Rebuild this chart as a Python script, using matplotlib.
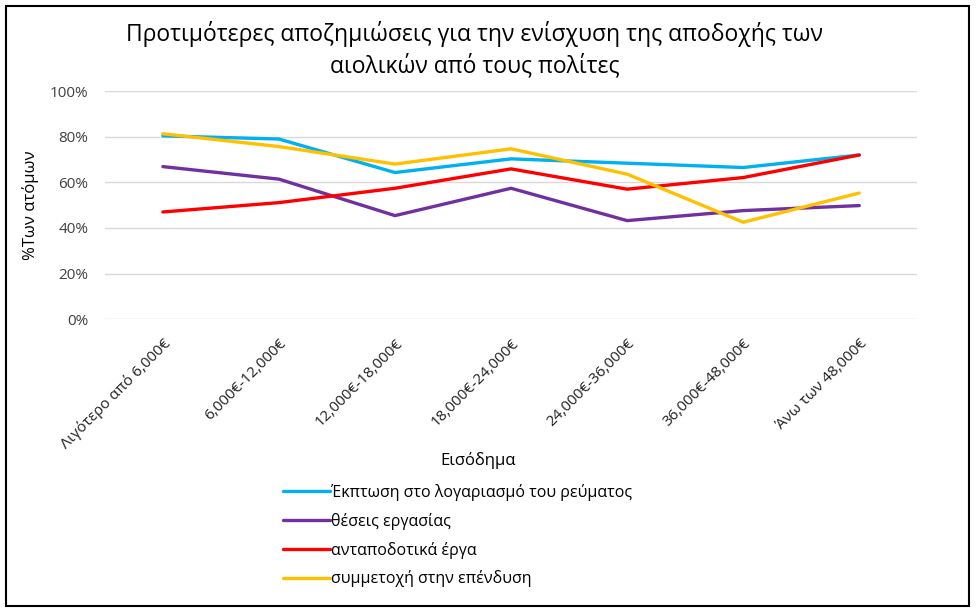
import matplotlib
matplotlib.use("Agg")
import matplotlib.pyplot as plt
from matplotlib.patches import Rectangle

plt.rcParams['font.family'] = ['Open Sans', 'DejaVu Sans']

# εισοδηματικές κατηγορίες
categories = ["Λιγότερο από 6,000€", "6,000€-12,000€", "12,000€-18,000€",
              "18,000€-24,000€", "24,000€-36,000€", "36,000€-48,000€",
              "Άνω των 48,000€"]

ekptosi = [0.804, 0.79, 0.643, 0.703, 0.684, 0.665, 0.72]
theseis = [0.669, 0.614, 0.454, 0.574, 0.432, 0.476, 0.498]
antapodotika = [0.47, 0.511, 0.574, 0.659, 0.570, 0.621, 0.72]
symmetoxi = [0.813, 0.757, 0.68, 0.747, 0.636, 0.425, 0.553]

labels = ["Έκπτωση στο λογαριασμό του ρεύματος", "θέσεις εργασίας",
          "ανταποδοτικά έργα", "συμμετοχή στην επένδυση"]
colors = ["#00B0F0", "#7030A0", "#FF0000", "#FFC000"]

fig = plt.figure(figsize=(9.8, 6.16), dpi=100)
ax = fig.add_axes([0.107, 0.482, 0.829, 0.370])

x = range(len(categories))
for vals, lab, c in zip([ekptosi, theseis, antapodotika, symmetoxi], labels, colors):
    ax.plot(x, vals, color=c, lw=2.4, label=lab, solid_capstyle='round')

ax.set_xlim(-0.5, len(categories) - 0.5)
ax.set_ylim(0, 1.0)
ax.set_yticks([0, 0.2, 0.4, 0.6, 0.8, 1.0])
ax.set_yticklabels(["0%", "20%", "40%", "60%", "80%", "100%"], fontsize=11, color="#404040")
ax.set_xticks(list(x))
ax.set_xticklabels(categories, rotation=45, ha='right', rotation_mode='anchor',
                   fontsize=11, color="#202020")
ax.tick_params(length=0, axis='both')
ax.tick_params(axis='x', pad=12)
ax.tick_params(axis='y', pad=12)
ax.grid(axis='y', color="#D9D9D9", lw=1)
ax.set_axisbelow(True)
for s in ax.spines.values():
    s.set_visible(False)

fig.text(0.484, 0.945, "Προτιμότερες αποζημιώσεις για την ενίσχυση της αποδοχής των",
         ha='center', va='center', fontsize=16.5)
fig.text(0.484, 0.892, "αιολικών από τους πολίτες", ha='center', va='center', fontsize=16.5)
fig.text(0.031, 0.667, "%Των ατόμων", rotation=90, ha='center', va='center', fontsize=12)
fig.text(0.488, 0.253, "Εισόδημα", ha='center', va='center', fontsize=12)

fig.legend(loc='upper left', bbox_to_anchor=(0.289, 0.215), frameon=False,
           fontsize=11.5, handlelength=2.9, handletextpad=0.1, labelspacing=0.75,
           borderpad=0, borderaxespad=0)

fig.patches.append(Rectangle((0.006, 0.017), 0.983, 0.973, transform=fig.transFigure,
                             fill=False, edgecolor='black', lw=1.5))

fig.savefig("out.png", dpi=100)
